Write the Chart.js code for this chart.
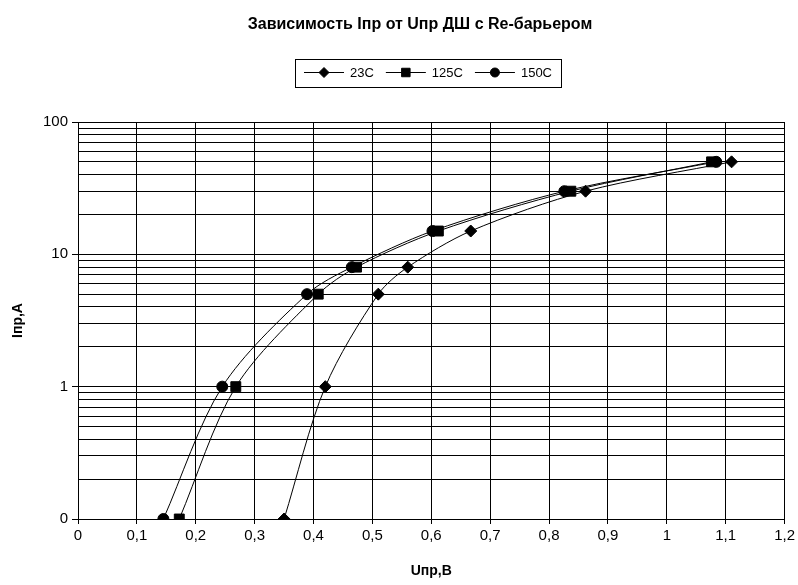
<!DOCTYPE html>
<html>
<head>
<meta charset="utf-8">
<script src="https://cdn.jsdelivr.net/npm/chart.js@4/dist/chart.umd.min.js"></script>
<style>
  html, body { margin: 0; padding: 0; background: #fff; }
  #wrap { width: 798px; height: 585px; }
</style>
</head>
<body>
<div id="wrap"><canvas id="chart"></canvas></div>
<script>
// current values, A (same for every series)
const currents = [0.1, 1, 5, 8, 15, 30, 50];
// forward voltage, V
const u23 = [0.35, 0.42, 0.51, 0.56, 0.667, 0.862, 1.11];
const u125 = [0.172, 0.268, 0.408, 0.473, 0.612, 0.837, 1.076];
const u150 = [0.145, 0.245, 0.389, 0.465, 0.602, 0.826, 1.084];
const seriesNames = ['23C', '125C', '150C'];
const markers = ['rectRot', 'rect', 'circle'];
const yMajor = [0.1, 1, 10, 100];
const yMajorLabels = ['0', '1', '10', '100'];

const FONT = 'Arial, "Liberation Sans", sans-serif';

const pts = u => u.map((x, i) => ({ x: x, y: currents[i] }));

const mkSet = (i, u, r) => ({
    label: seriesNames[i],
    data: pts(u),
    borderColor: '#000',
    backgroundColor: '#000',
    borderWidth: 1,
    pointStyle: markers[i],
    pointRadius: r,
    pointHoverRadius: r,
    tension: 0.3,
    fill: false
});

// minor log gridlines 0.1..100
const yGrid = [];
yMajor.slice(0, 3).forEach(d => { for (let k = 1; k < 10; k++) yGrid.push(+(d * k).toPrecision(3)); });
yGrid.push(100);

const legendBox = {
    id: 'legendBox',
    afterDraw(chart) {
        const ctx = chart.ctx;
        ctx.save();
        // title
        ctx.fillStyle = '#000';
        ctx.font = 'bold 16px ' + FONT;
        ctx.textAlign = 'center';
        ctx.textBaseline = 'middle';
        ctx.fillText('Зависимость Iпр от Uпр ДШ с Re-барьером', 420, 25);

        // legend
        ctx.font = '13px ' + FONT;
        const lineLen = 40, gap = 6, itemGap = 12, pad = 9;
        const widths = seriesNames.map(n => ctx.measureText(n).width);
        let total = pad * 2 + itemGap * (seriesNames.length - 1);
        widths.forEach(w => total += lineLen + gap + w);
        const cx = 428, cy = 72.5, h = 28;
        let x = Math.round(cx - total / 2);
        ctx.lineWidth = 1;
        ctx.strokeStyle = '#000';
        ctx.strokeRect(x + 0.5, Math.round(cy - h / 2) + 0.5, Math.round(total), h);
        x += pad;
        ctx.textAlign = 'left';
        chart.data.datasets.forEach((ds, i) => {
            ctx.beginPath();
            ctx.moveTo(x, cy);
            ctx.lineTo(x + lineLen, cy);
            ctx.stroke();
            ctx.fillStyle = '#000';
            Chart.helpers.drawPoint(ctx, { pointStyle: ds.pointStyle, radius: ds.pointRadius - 1, rotation: 0, borderWidth: 1 }, x + lineLen / 2, cy);
            x += lineLen + gap;
            ctx.fillStyle = '#000';
            ctx.fillText(ds.label, x, cy + 1);
            x += widths[i] + itemGap;
        });
        ctx.restore();
    }
};

new Chart(document.getElementById('chart'), {
    type: 'line',
    data: {
        datasets: [mkSet(0, u23, 6), mkSet(1, u125, 7), mkSet(2, u150, 5.5)]
    },
    options: {
        responsive: true,
        maintainAspectRatio: false,
        animation: false,
        layout: { padding: { top: 122, right: 10, left: 0, bottom: 0 } },
        plugins: { legend: { display: false }, title: { display: false }, tooltip: { enabled: false } },
        scales: {
            x: {
                type: 'linear',
                min: 0, max: 1.2,
                afterFit: s => { s.height = 66; },
                ticks: {
                    stepSize: 0.1,
                    color: '#000',
                    font: { family: FONT, size: 15 },
                    padding: 3,
                    maxRotation: 0,
                    callback: v => String(+v.toFixed(1)).replace('.', ',')
                },
                grid: { color: '#000', lineWidth: 1, tickLength: 5, tickColor: '#000' },
                border: { color: '#000', width: 1 },
                title: {
                    display: true, text: 'Uпр,В', color: '#000',
                    font: { family: FONT, size: 14, weight: 'bold' },
                    padding: { top: 4, bottom: 5 }
                }
            },
            y: {
                type: 'logarithmic',
                min: 0.1, max: 100,
                afterFit: s => { s.width = 78; },
                afterBuildTicks: s => { s.ticks = yGrid.map(v => ({ value: v })); },
                ticks: {
                    autoSkip: false,
                    color: '#000',
                    font: { family: FONT, size: 15 },
                    padding: 4,
                    callback: v => {
                        const i = yMajor.findIndex(m => Math.abs(m - v) < 1e-9);
                        return i >= 0 ? yMajorLabels[i] : '';
                    }
                },
                grid: {
                    color: '#000', lineWidth: 1, tickLength: 6,
                    tickColor: c => yMajor.some(m => Math.abs(m - c.tick.value) < 1e-9) ? '#000' : 'rgba(0,0,0,0)'
                },
                border: { color: '#000', width: 1 },
                title: {
                    display: true, text: 'Iпр,А', color: '#000',
                    font: { family: FONT, size: 14, weight: 'bold' },
                    padding: { top: 10, bottom: 0 }
                }
            }
        }
    },
    plugins: [legendBox]
});
</script>
</body>
</html>
